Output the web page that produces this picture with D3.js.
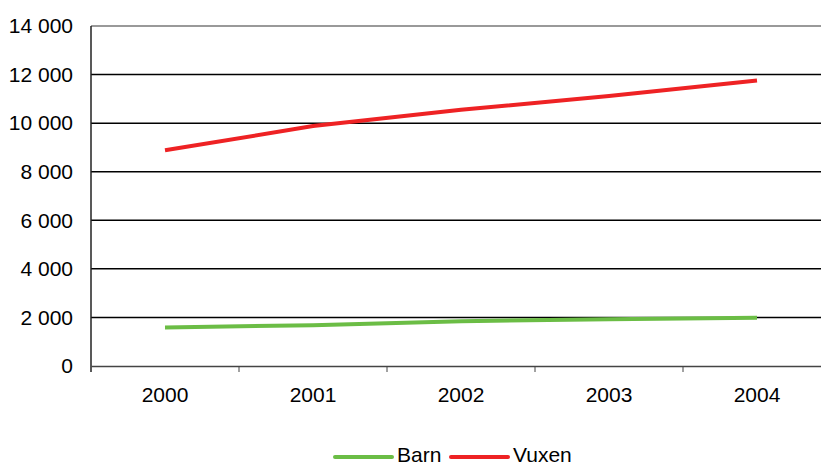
<!DOCTYPE html>
<html><head><meta charset="utf-8">
<script src="https://cdn.jsdelivr.net/npm/d3@7"></script>
<style>body{margin:0;background:#fff;}svg{display:block;font-family:"Liberation Sans",Arial,sans-serif;}
svg text{font-family:"Liberation Sans",Arial,sans-serif;font-size:21px;fill:#000;}</style>
</head><body>
<svg id="c" width="821" height="467"></svg>
<script>
const years = ["2000","2001","2002","2003","2004"];
const barn = [1590, 1680, 1840, 1930, 1990];
const vuxen = [8880, 9880, 10550, 11120, 11760];
const yTicks = [0, 2000, 4000, 6000, 8000, 10000, 12000, 14000];
const seriesNames = ["Barn", "Vuxen"];
const seriesColors = ["#6bbd45", "#ee2224"];

const svg = d3.select("#c");
const L = 91, R = 831, T = 26, B = 366;
const x = d3.scaleBand().domain(years).range([L, R]);
const y = d3.scaleLinear().domain([0, 14000]).range([B, T]);
const fmt = v => d3.format(",")(v).replace(/,/g, " ");

svg.append("g").selectAll("line").data(yTicks.filter(v => v > 0 && v < 14000)).join("line")
  .attr("x1", L).attr("x2", R).attr("y1", d => y(d)).attr("y2", d => y(d))
  .attr("stroke", "#000").attr("stroke-width", 1.5);
svg.append("line").attr("x1", L).attr("x2", R).attr("y1", y(14000)).attr("y2", y(14000))
  .attr("stroke", "#999").attr("stroke-width", 2);

const ya = svg.append("g").attr("transform", `translate(${L},0)`)
  .call(d3.axisLeft(y).tickValues(yTicks).tickFormat(fmt).tickSize(0).tickPadding(18));
ya.select(".domain").remove();
svg.append("line").attr("x1", L).attr("x2", L).attr("y1", T).attr("y2", B + 6)
  .attr("stroke", "#222").attr("stroke-width", 1.5);

const xa = svg.append("g").attr("transform", `translate(0,${B})`)
  .call(d3.axisBottom(x).tickSize(0).tickPadding(21));
xa.select(".domain").attr("stroke", "#444").attr("stroke-width", 1.5);
svg.append("g").selectAll("line").data(years.slice(1)).join("line")
  .attr("x1", d => x(d)).attr("x2", d => x(d)).attr("y1", B).attr("y2", B + 6)
  .attr("stroke", "#444").attr("stroke-width", 1);

const line = d3.line().x((d, i) => x(years[i]) + x.bandwidth() / 2).y(d => y(d));
[barn, vuxen].forEach((s, k) => {
  svg.append("path").datum(s).attr("d", line).attr("fill", "none")
    .attr("stroke", seriesColors[k]).attr("stroke-width", 4).attr("stroke-linejoin", "round");
});

const lg = svg.append("g");
const legX = [335, 451];
seriesNames.forEach((n, k) => {
  lg.append("line").attr("x1", legX[k]).attr("x2", legX[k] + 57).attr("y1", 457).attr("y2", 457)
    .attr("stroke", seriesColors[k]).attr("stroke-width", 4).attr("stroke-linecap", "round");
  lg.append("text").attr("x", legX[k] + 62).attr("y", 462).text(n);
});
</script>
</body></html>
